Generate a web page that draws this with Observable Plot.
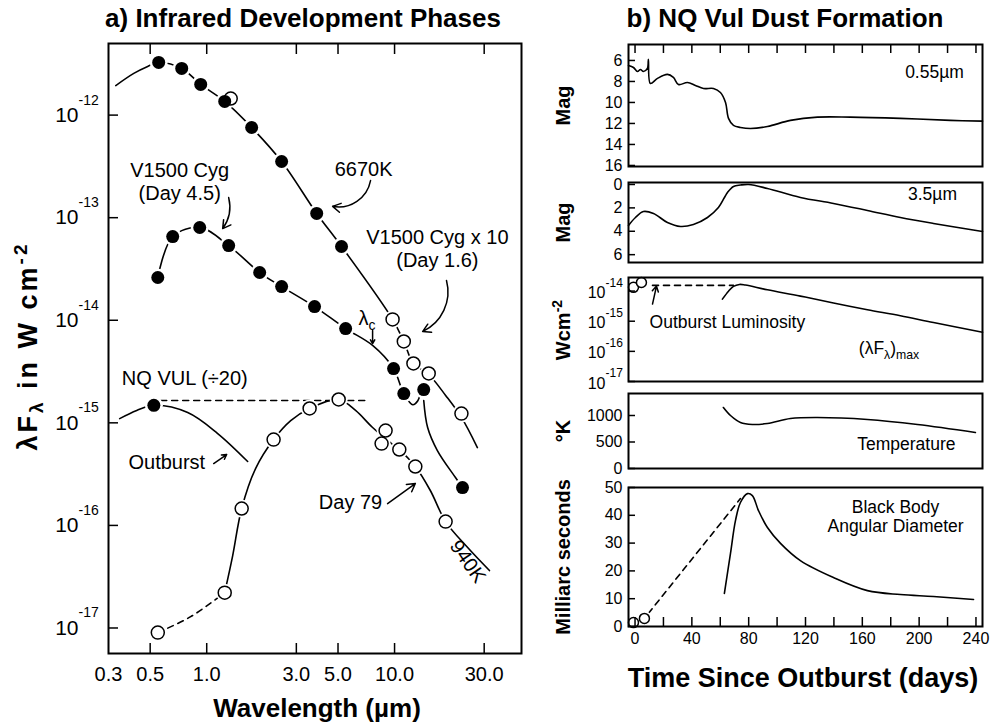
<!DOCTYPE html>
<html>
<head>
<meta charset="utf-8">
<script src="https://cdn.jsdelivr.net/npm/d3@7"></script>
<script src="https://cdn.jsdelivr.net/npm/@observablehq/plot@0.6"></script>
<style>
  body { margin: 0; background: #fff; }
  #wrap { position: relative; width: 991px; height: 728px; font-family: "Liberation Sans", Arial, Helvetica, sans-serif; color: #000; overflow: hidden; }
  #wrap svg { position: absolute; overflow: visible; background: transparent; }
  .abs { position: absolute; white-space: nowrap; line-height: 1; transform: translate(-50%, -50%); }
  .title { font-weight: bold; font-size: 26px; }
  .rot { transform: translate(-50%, -50%) rotate(-90deg); }
  sub, sup { font-size: 70%; line-height: 0; }
</style>
</head>
<body>
<div id="wrap"></div>
<script>
// ---------------- Panel a: wavelength (µm) vs λFλ (W cm^-2) ----------------
const xTickValues = [0.5, 1, 3, 5, 10, 30];
const xLabelValues = [0.3, 0.5, 1, 3, 5, 10, 30];
const xTickLabels = ["0.3", "0.5", "1.0", "3.0", "5.0", "10.0", "30.0"];
const yTickValues = [1e-12, 1e-13, 1e-14, 1e-15, 1e-16, 1e-17];
const yTickExponents = ["-12", "-13", "-14", "-15", "-16", "-17"];

// V1500 Cyg day 1.6 (filled) and V1500 Cyg x10 (open)
const day16Filled = [[0.555, 3.26e-12], [0.736, 2.85e-12], [0.929, 1.99e-12], [1.247, 1.36e-12], [1.735, 7.57e-13], [2.505, 3.53e-13], [3.85, 1.10e-13], [5.22, 5.24e-14]];
const day16x10Open = [[1.342, 1.45e-12], [9.76, 1.02e-14], [11.2, 6.21e-15], [12.6, 3.79e-15], [15.2, 3.03e-15], [22.7, 1.23e-15]];
const curve6670K = [[0.328, 1.94e-12], [0.409, 2.55e-12], [0.485, 2.98e-12], [0.555, 3.26e-12], [0.736, 2.85e-12], [0.929, 1.99e-12], [1.247, 1.36e-12], [1.735, 7.57e-13], [2.505, 3.53e-13], [3.85, 1.10e-13], [5.22, 5.24e-14], [9.76, 1.02e-14], [11.2, 6.21e-15], [12.6, 3.79e-15], [15.2, 2.96e-15], [18.7, 1.85e-15], [22.7, 1.13e-15], [27.6, 5.74e-16]];

// V1500 Cyg day 4.5
const day45Filled = [[0.549, 2.61e-14], [0.659, 6.55e-14], [0.918, 8.02e-14], [1.309, 5.35e-14], [1.914, 2.92e-14], [2.505, 2.13e-14], [3.75, 1.36e-14], [5.49, 8.30e-15], [9.88, 3.38e-15], [11.2, 1.93e-15], [14.3, 2.11e-15], [23.0, 2.34e-16]];
const curveDay45 = [[0.549, 2.61e-14], [0.659, 6.55e-14], [0.918, 8.02e-14], [1.309, 5.35e-14], [1.914, 2.92e-14], [2.505, 2.13e-14], [3.75, 1.36e-14], [5.49, 8.30e-15], [7.64, 5.68e-15], [9.88, 3.38e-15], [11.2, 1.93e-15], [12.5, 1.50e-15], [13.3, 1.64e-15], [13.7, 1.92e-15]];
const curveDay45Tail = [[14.3, 1.65e-15], [15.0, 9.0e-16], [16.9, 5.37e-16], [21.1, 2.93e-16], [23.0, 2.34e-16]];

// NQ Vul outburst (÷20)
const outburstFilled = [[0.523, 1.48e-15]];
const curveOutburst = [[0.344, 1.10e-15], [0.424, 1.32e-15], [0.523, 1.48e-15], [0.792, 1.26e-15], [1.144, 7.87e-16], [1.652, 4.20e-16]];
const outburstLevel = [[0.569, 1.65e-15], [7.27, 1.65e-15]];

// NQ Vul day 79
const day79Open = [[0.549, 9.02e-18], [1.247, 2.21e-17], [1.535, 1.46e-16], [2.27, 6.87e-16], [3.53, 1.38e-15], [5.04, 1.69e-15], [8.96, 8.41e-16], [8.53, 6.28e-16], [10.6, 5.49e-16], [12.9, 3.75e-16], [18.7, 1.09e-16]];
const curveDay79Dashed = [[0.549, 9.02e-18], [0.822, 1.29e-17], [1.247, 2.21e-17]];
const curve940K = [[1.247, 2.21e-17], [1.375, 5.08e-17], [1.535, 1.46e-16], [1.82, 3.58e-16], [2.27, 6.87e-16], [2.80, 1.05e-15], [3.53, 1.38e-15], [5.04, 1.69e-15], [6.20, 1.32e-15], [7.64, 9.0e-16], [9.76, 6.15e-16], [10.6, 5.49e-16], [12.9, 3.75e-16], [15.5, 2.19e-16], [18.7, 1.09e-16], [24.5, 6.08e-17], [32.0, 3.63e-17]];

const labelsA = [
  {x: 6.84, y: 2.95e-13, text: "6670K"},
  {x: 0.718, y: 2.88e-13, text: "V1500 Cyg"},
  {x: 0.718, y: 1.72e-13, text: "(Day 4.5)"},
  {x: 16.9, y: 6.40e-14, text: "V1500 Cyg x 10"},
  {x: 16.9, y: 3.82e-14, text: "(Day 1.6)"},
  {x: 0.764, y: 2.70e-15, text: "NQ VUL (÷20)"},
  {x: 0.613, y: 4.10e-16, text: "Outburst"},
  {x: 5.83, y: 1.67e-16, text: "Day 79"}
];
const label940K = [{x: 24.5, y: 4.44e-17, text: "940K"}];
const arrowsA = [
  {x1: 7.45, y1: 2.30e-13, x2: 4.68, y2: 1.29e-13, bend: 45},
  {x1: 1.309, y1: 1.57e-13, x2: 1.216, y2: 7.83e-14, bend: 25},
  {x1: 18.9, y1: 2.44e-14, x2: 14.1, y2: 7.76e-15, bend: 40},
  {x1: 7.64, y1: 7.94e-15, x2: 7.64, y2: 5.93e-15, bend: 0},
  {x1: 1.089, y1: 4.01e-16, x2: 1.277, y2: 4.91e-16, bend: 0},
  {x1: 9.18, y1: 1.63e-16, x2: 12.9, y2: 2.56e-16, bend: 0}
];

// ---------------- Panel b: NQ Vul dust formation vs days ----------------
const dayTicks = [0, 20, 40, 60, 80, 100, 120, 140, 160, 180, 200, 220, 240];
const dayLabels = [0, 40, 80, 120, 160, 200, 240];

const vMagTicks = [6, 8, 10, 12, 14, 16];
const vMag = [[-4.6, 6.48], [-1.1, 6.67], [1.7, 7.05], [3.8, 6.86], [5.9, 7.05], [8.7, 6.76], [9.4, 5.90], [10.8, 8.19], [15.8, 7.71], [22.8, 7.33], [27.0, 7.62], [30.6, 8.29], [36.9, 8.10], [42.5, 8.38], [48.2, 8.67], [55.2, 8.67], [60.1, 9.05], [63.7, 10.0], [65.8, 11.52], [69.3, 12.19], [74.2, 12.38], [81.3, 12.48], [93.2, 12.29], [109.4, 11.71], [128.4, 11.4], [151.6, 11.4], [186.8, 11.52], [222.0, 11.71], [244.6, 11.78]];

const lMagTicks = [0, 2, 4, 6];
const lMag = [[-4.6, 3.50], [0.3, 2.82], [5.9, 2.31], [13.0, 2.48], [22.8, 3.25], [32.0, 3.59], [41.1, 3.42], [51.0, 2.82], [58.7, 1.97], [65.1, 0.68], [69.3, 0.17], [74.2, 0.05], [80.0, 0.0], [93.2, 0.34], [116.4, 1.11], [139.7, 1.62], [163.6, 2.22], [186.8, 2.82], [210.1, 3.33], [244.6, 4.02]];

const lumTicks = [1e-14, 1e-15, 1e-16, 1e-17];
const lumTickExponents = ["-14", "-15", "-16", "-17"];
const lumOpen = [[-1.1, 1.33e-14], [4.5, 1.93e-14]];
const lumOutburstLevel = [[12.3, 1.54e-14], [69.3, 1.54e-14]];
const lumMax = [[61.5, 5.4e-15], [65.8, 9.9e-15], [69.3, 1.43e-14], [73.5, 1.66e-14], [77.7, 1.58e-14], [93.2, 1.10e-14], [116.4, 6.8e-15], [139.7, 4.0e-15], [163.6, 2.4e-15], [186.8, 1.52e-15], [210.1, 9.0e-16], [244.6, 4.3e-16]];

const tempTicks = [0, 500, 1000];
const dustTemp = [[62.2, 1151], [67.2, 1000], [74.2, 868], [82.6, 830], [93.2, 849], [109.4, 943], [128.4, 962], [163.6, 925], [198.8, 830], [239.6, 679]];

const diamTicks = [0, 10, 20, 30, 40, 50];
const diamOpen = [[-1.1, 1.4], [6.6, 2.9]];
const diamDashed = [[9.4, 4.7], [74.2, 46.0]];
const diamCurve = [[62.9, 11.9], [67.2, 26.3], [70.7, 38.1], [74.2, 44.6], [79.1, 47.8], [82.6, 47.1], [86.9, 41.7], [93.2, 35.6], [102.4, 29.9], [116.4, 23.7], [139.7, 17.6], [163.6, 12.9], [186.8, 11.5], [210.1, 10.8], [238.3, 9.7]];

const labelsB = {
  vMag: [{x: 210.8, y: 7.14, text: "0.55µm"}],
  lMag: [{x: 209.4, y: 0.85, text: "3.5µm"}],
  lum: [{x: 65.0, y: 9.0e-16, text: "Outburst Luminosity"}],
  temp: [{x: 191, y: 453, text: "Temperature"}],
  diam: [{x: 183.4, y: 42.8, text: "Black Body"}, {x: 183.4, y: 36.0, text: "Angular Diameter"}]
};
const lumArrow = [{x1: 12.3, y1: 3.7e-15, x2: 15.1, y2: 1.46e-14}];

// ---------------- rendering ----------------
const FONT = '"Liberation Sans", Arial, Helvetica, sans-serif';
const wrap = document.getElementById("wrap");
const LW = 1.6;

function place(svg, left, top) {
  svg.style.left = left + "px";
  svg.style.top = top + "px";
  wrap.appendChild(svg);
}
function html(text, x, y, cls, style) {
  const d = document.createElement("div");
  d.className = "abs " + (cls || "");
  d.innerHTML = text;
  d.style.left = x + "px";
  d.style.top = y + "px";
  if (style) Object.assign(d.style, style);
  wrap.appendChild(d);
}
const openDots = (data, r = 6.5) => [
  Plot.dot(data, {r: r + 2.5, fill: "white", stroke: "none"}),
  Plot.dot(data, {r, fill: "white", stroke: "black", strokeWidth: 1.5})
];

// Left panel
const halo = (data) => Plot.dot(data, {r: 9, fill: "white", stroke: "none"});
const left = Plot.plot({
  width: 530, height: 728,
  marginLeft: 108, marginRight: 9, marginTop: 43, marginBottom: 75,
  style: {fontFamily: FONT, background: "transparent", overflow: "visible", color: "black"},
  x: {type: "log", domain: [0.3, 47.4], axis: null},
  y: {type: "log", domain: [5.64e-18, 4.99e-12], axis: null},
  marks: [
    Plot.line(curve6670K, {curve: "catmull-rom", strokeWidth: LW}),
    Plot.line(curveDay45, {curve: "catmull-rom", strokeWidth: LW}),
    Plot.line(curveDay45Tail, {curve: "catmull-rom", strokeWidth: LW}),
    Plot.line(curveOutburst, {curve: "catmull-rom", strokeWidth: LW}),
    Plot.line(outburstLevel, {strokeWidth: LW, strokeDasharray: "6,5"}),
    Plot.line(curveDay79Dashed, {curve: "catmull-rom", strokeWidth: LW, strokeDasharray: "6,5"}),
    Plot.line(curve940K, {curve: "catmull-rom", strokeWidth: LW}),
    halo(day16Filled), halo(day16x10Open), halo(day45Filled), halo(outburstFilled), halo(day79Open),
    Plot.dot(day16x10Open, {r: 6.5, fill: "white", stroke: "black", strokeWidth: 1.5}),
    Plot.dot(day79Open, {r: 6.5, fill: "white", stroke: "black", strokeWidth: 1.5}),
    Plot.dot(day16Filled, {r: 6.5, fill: "black"}),
    Plot.dot(day45Filled, {r: 6.5, fill: "black"}),
    Plot.dot(outburstFilled, {r: 6.5, fill: "black"}),
    ...arrowsA.map(a => Plot.arrow([a], {x1: "x1", y1: "y1", x2: "x2", y2: "y2", bend: a.bend, headLength: 9, strokeWidth: 1.5})),
    Plot.text(labelsA, {x: "x", y: "y", text: "text", fontSize: 20}),
    Plot.text(label940K, {x: "x", y: "y", text: "text", fontSize: 20, rotate: 55}),
    Plot.frame({strokeWidth: 2}),
    Plot.axisX(xTickValues, {anchor: "bottom", tickSize: -10, fill: "none", label: null, strokeWidth: 1.5}),
    Plot.axisX(xTickValues, {anchor: "top", tickSize: -10, fill: "none", label: null, strokeWidth: 1.5}),
    Plot.axisY(yTickValues, {anchor: "left", tickSize: -10, fill: "none", label: null, strokeWidth: 1.5}),
    Plot.text(xLabelValues, {x: d => d, text: (d, i) => xTickLabels[i], frameAnchor: "bottom", textAnchor: "middle", lineAnchor: "middle", dy: 21, fontSize: 20}),
    Plot.text(yTickValues, {y: d => d, text: () => "10", frameAnchor: "left", dx: -30, textAnchor: "end", fontSize: 21}),
    Plot.text(yTickValues, {y: d => d, text: (d, i) => yTickExponents[i], frameAnchor: "left", dx: -30, dy: -15, textAnchor: "start", fontSize: 14})
  ]
});
place(left, 0, 0);

// Right panels
function rightPanel({frameTop, frameBottom, y, ticks, tickText, title, marks = [], topTicks = false, bottomAxis = false, logTicks = null}) {
  const pad = 12;
  const h = frameBottom - frameTop + 2 * pad;
  const m = [
    ...marks,
    Plot.frame({strokeWidth: 2}),
    Plot.axisY(ticks, {anchor: "left", tickSize: -7, fill: "none", label: null, strokeWidth: 1.5})
  ];
  if (logTicks) {
    m.push(Plot.text(ticks, {y: d => d, text: () => "10", frameAnchor: "left", dx: -23, dy: 2, textAnchor: "end", fontSize: 16}));
    m.push(Plot.text(ticks, {y: d => d, text: (d, i) => logTicks[i], frameAnchor: "left", dx: -23, dy: -8, textAnchor: "start", fontSize: 12}));
  } else {
    m.push(Plot.text(ticks, {y: d => d, text: tickText || (d => String(d)), frameAnchor: "left", dx: -6, textAnchor: "end", fontSize: 16}));
  }
  if (topTicks) m.push(Plot.axisX(dayTicks, {anchor: "top", tickSize: -8, fill: "none", label: null, strokeWidth: 1.5}));
  if (bottomAxis) {
    m.push(Plot.axisX(dayTicks, {anchor: "bottom", tickSize: -9, fill: "none", label: null, strokeWidth: 1.5}));
    m.push(Plot.text(dayLabels, {x: d => d, text: d => String(d), frameAnchor: "bottom", textAnchor: "middle", lineAnchor: "middle", dy: 12, fontSize: 16}));
  }
  if (title) m.push(Plot.text([title], {frameAnchor: "left", textAnchor: "middle", dx: -65, rotate: -90, fontSize: 20, fontWeight: "bold"}));
  const svg = Plot.plot({
    width: 491, height: h,
    marginLeft: 128, marginRight: 9, marginTop: pad, marginBottom: pad,
    style: {fontFamily: FONT, background: "transparent", overflow: "visible", color: "black"},
    x: {domain: [-4.6, 244.6], axis: null},
    y: {...y, axis: null},
    marks: m
  });
  place(svg, 500, frameTop - pad);
}

const txt = (data) => Plot.text(data, {x: "x", y: "y", text: "text", fontSize: 17.5});

rightPanel({
  frameTop: 44, frameBottom: 166, title: "Mag", ticks: vMagTicks, topTicks: true,
  y: {domain: [4.48, 16.1], reverse: true},
  marks: [Plot.line(vMag, {curve: "catmull-rom", strokeWidth: LW}), txt(labelsB.vMag)]
});
rightPanel({
  frameTop: 182, frameBottom: 262, title: "Mag", ticks: lMagTicks,
  y: {domain: [-0.17, 6.67], reverse: true},
  marks: [Plot.line(lMag, {curve: "catmull-rom", strokeWidth: LW}), txt(labelsB.lMag)]
});
rightPanel({
  frameTop: 277, frameBottom: 381, title: null, ticks: lumTicks, logTicks: lumTickExponents,
  y: {type: "log", domain: [1e-17, Math.pow(10, -13.55)]},
  marks: [
    Plot.line(lumOutburstLevel, {strokeWidth: LW, strokeDasharray: "6,5"}),
    Plot.line(lumMax, {curve: "catmull-rom", strokeWidth: LW}),
    ...openDots(lumOpen, 5),
    Plot.arrow(lumArrow, {x1: "x1", y1: "y1", x2: "x2", y2: "y2", headLength: 8, strokeWidth: 1.5}),
    txt(labelsB.lum)
  ]
});
rightPanel({
  frameTop: 393, frameBottom: 468, title: "°K", ticks: tempTicks,
  y: {domain: [0, 1415]},
  marks: [Plot.line(dustTemp, {curve: "catmull-rom", strokeWidth: LW}), txt(labelsB.temp)]
});
rightPanel({
  frameTop: 487, frameBottom: 626, title: "Milliarc seconds", ticks: diamTicks, bottomAxis: true,
  y: {domain: [0, 50]},
  marks: [
    Plot.line(diamDashed, {strokeWidth: LW, strokeDasharray: "6,5"}),
    Plot.line(diamCurve, {curve: "catmull-rom", strokeWidth: LW}),
    ...openDots(diamOpen, 5),
    txt(labelsB.diam)
  ]
});

// Titles and rich-text labels
html("a) Infrared Development Phases", 303, 18, "title");
html("b) NQ Vul Dust Formation", 785, 18, "title");
html("Wavelength (µm)", 317, 708, "title");
html("Time Since Outburst (days)", 803, 678, "title", {fontSize: "27px"});
html("λF<sub>λ</sub> in W cm<sup>-2</sup>", 28, 346, "title rot", {letterSpacing: "3px", fontSize: "27px"});
html("Wcm<sup>-2</sup>", 563, 330, "rot", {fontWeight: "bold", fontSize: "20px"});
html("(λF<sub>λ</sub>)<sub>max</sub>", 889, 349, "", {fontSize: "17.5px"});
html("λ<sub>c</sub>", 367, 318, "", {fontSize: "20px"});
</script>
</body>
</html>
